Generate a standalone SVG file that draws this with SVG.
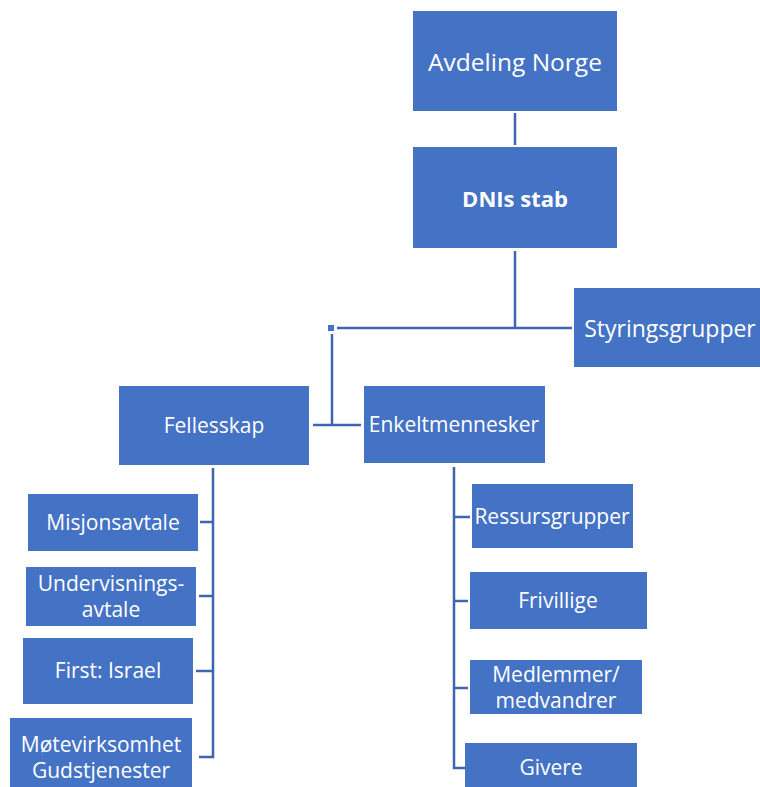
<svg xmlns="http://www.w3.org/2000/svg" width="760" height="787" viewBox="0 0 760 787">
<style>
.box{fill:#4472C4;}
.t{fill:#ffffff;font-family:"Open Sans","Noto Sans",sans-serif;font-size:21px;text-anchor:middle;dominant-baseline:central;}
.big{font-size:24.5px;}
.sg{font-size:23px;}
.b{font-weight:bold;font-size:22px;}
.c{stroke:#3F65B0;stroke-width:2.5;fill:none;}
</style>
<rect width="760" height="787" fill="#ffffff"/>
<g id="connectors">
<line class="c" x1="515" y1="113" x2="515" y2="145"/>
<line class="c" x1="515" y1="251" x2="515" y2="328"/>
<line class="c" x1="337" y1="328" x2="572" y2="328"/>
<rect x="328" y="325" width="6" height="6" fill="#4472C4"/>
<line class="c" x1="332" y1="334" x2="332" y2="425"/>
<line class="c" x1="313" y1="425" x2="361" y2="425"/>
<path class="c" d="M213 468 V757 H199"/>
<line class="c" x1="200" y1="522" x2="213" y2="522"/>
<line class="c" x1="199" y1="596" x2="213" y2="596"/>
<line class="c" x1="196" y1="671" x2="213" y2="671"/>
<path class="c" d="M454 467 V768 H469"/>
<line class="c" x1="454" y1="517" x2="470" y2="517"/>
<line class="c" x1="454" y1="601" x2="468" y2="601"/>
<line class="c" x1="454" y1="688" x2="468" y2="688"/>
</g>
<g id="avdeling-norge"><rect class="box" x="413" y="11" width="204" height="100"/><text class="t big" x="515" y="61">Avdeling Norge</text></g>
<g id="dnis-stab"><rect class="box" x="413" y="147" width="204" height="101"/><text class="t b" x="515" y="198">DNIs stab</text></g>
<g id="styringsgrupper"><rect class="box" x="574" y="288" width="186" height="79"/><text class="t sg" x="670" y="328">Styringsgrupper</text></g>
<g id="fellesskap"><rect class="box" x="119" y="386" width="190" height="79"/><text class="t" x="214" y="425">Fellesskap</text></g>
<g id="enkeltmennesker"><rect class="box" x="364" y="386" width="181" height="77"/><text class="t" x="454" y="424">Enkeltmennesker</text></g>
<g id="misjonsavtale"><rect class="box" x="28" y="494" width="170" height="57"/><text class="t" x="113" y="522">Misjonsavtale</text></g>
<g id="undervisningsavtale"><rect class="box" x="26" y="567" width="170" height="59"/><text class="t" x="111" y="583">Undervisnings-</text><text class="t" x="111" y="609">avtale</text></g>
<g id="first-israel"><rect class="box" x="23" y="638" width="170" height="66"/><text class="t" x="108" y="670">First: Israel</text></g>
<g id="motevirksomhet"><rect class="box" x="10" y="718" width="182" height="69"/><text class="t" x="101" y="744">Møtevirksomhet</text><text class="t" x="101" y="770">Gudstjenester</text></g>
<g id="ressursgrupper"><rect class="box" x="472" y="484" width="161" height="64"/><text class="t" x="552" y="516">Ressursgrupper</text></g>
<g id="frivillige"><rect class="box" x="470" y="572" width="177" height="57"/><text class="t" x="558" y="600">Frivillige</text></g>
<g id="medlemmer"><rect class="box" x="470" y="660" width="172" height="54"/><text class="t" x="556" y="674">Medlemmer/</text><text class="t" x="556" y="700">medvandrer</text></g>
<g id="givere"><rect class="box" x="465" y="743" width="172" height="44"/><text class="t" x="551" y="767">Givere</text></g>
</svg>
